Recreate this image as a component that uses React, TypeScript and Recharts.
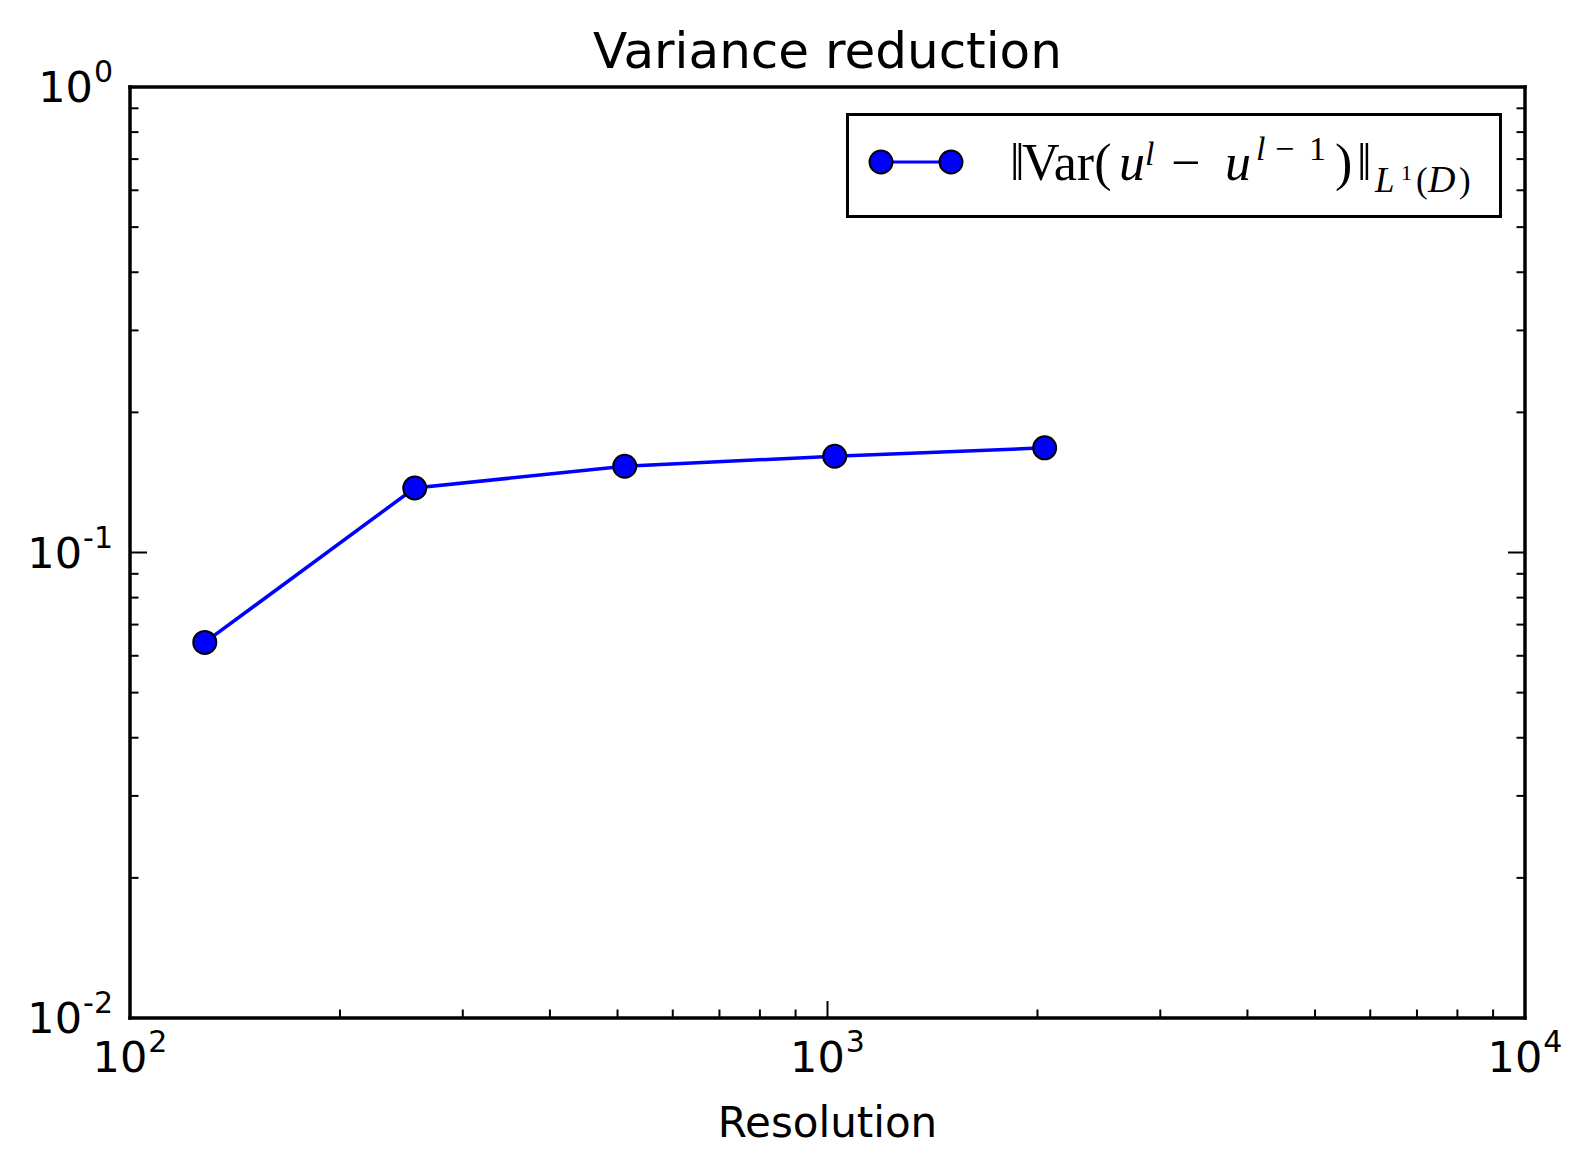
import { Legend, Line, LineChart, XAxis, YAxis } from "recharts";

const resolution = [128, 256, 512, 1024, 2048];
const varianceNorm = [0.0641, 0.1376, 0.1532, 0.161, 0.1678];

const xMajorTicks = [100, 1000, 10000];
const xMinorTicks = [200, 300, 400, 500, 600, 700, 800, 900, 2000, 3000, 4000, 5000, 6000, 7000, 8000, 9000];
const xTickExponents = ["2", "3", "4"];

const yMajorTicks = [0.01, 0.1, 1];
const yMinorTicks = [0.02, 0.03, 0.04, 0.05, 0.06, 0.07, 0.08, 0.09, 0.2, 0.3, 0.4, 0.5, 0.6, 0.7, 0.8, 0.9];
const yTickExponents = ["-2", "-1", "0"];

const chartTitle = "Variance reduction";
const xAxisTitle = "Resolution";
const seriesName = "‖Var(u^l − u^{l−1})‖_{L^1(D)}";

const data = resolution.map((r, i) => ({ resolution: r, value: varianceNorm[i] }));
const xTicks = [...xMajorTicks, ...xMinorTicks].sort((a, b) => a - b);
const yTicks = [...yMajorTicks, ...yMinorTicks].sort((a, b) => a - b);

const SANS = "'DejaVu Sans', sans-serif";
const SERIF = "'Liberation Serif', 'DejaVu Serif', serif";
const MAJOR_LEN = 17;
const MINOR_LEN = 8.5;
const TICK_FONT = 43;
const SUP_FONT = 30;
const BLUE = "#0000ff";

const frame = { stroke: "#000", strokeWidth: 3.5, strokeLinecap: "square" as const };

function XTick({ x, y, payload, side }: any) {
  const idx = xMajorTicks.indexOf(payload.value);
  const len = idx >= 0 ? MAJOR_LEN : MINOR_LEN;
  const dir = side === "bottom" ? -1 : 1;
  return (
    <g>
      <line x1={x} x2={x} y1={y} y2={y + dir * len} stroke="#000" strokeWidth={2} />
      {side === "bottom" && idx >= 0 ? (
        <text x={x} y={y + 54} textAnchor="middle" fontFamily={SANS} fontSize={TICK_FONT} fill="#000">
          10
          <tspan dx={1} dy={-20} fontSize={SUP_FONT}>
            {xTickExponents[idx]}
          </tspan>
        </text>
      ) : null}
    </g>
  );
}

function YTick({ x, y, payload, side }: any) {
  const idx = yMajorTicks.indexOf(payload.value);
  const len = idx >= 0 ? MAJOR_LEN : MINOR_LEN;
  const dir = side === "left" ? 1 : -1;
  return (
    <g>
      <line x1={x} x2={x + dir * len} y1={y} y2={y} stroke="#000" strokeWidth={2} />
      {side === "left" && idx >= 0 ? (
        <text x={x - 17} y={y + 15} textAnchor="end" fontFamily={SANS} fontSize={TICK_FONT} fill="#000">
          10
          <tspan dx={1} dy={-20} fontSize={SUP_FONT}>
            {yTickExponents[idx]}
          </tspan>
        </text>
      ) : null}
    </g>
  );
}

function LegendBox() {
  // pieces of the math label placed at the positions
  return (
    <svg width={656} height={105} style={{ display: "block" }}>
      <rect x={1.5} y={1.5} width={653} height={102} fill="#fff" stroke="#000" strokeWidth={3} />
      <line x1={35} x2={105} y1={49} y2={49} stroke={BLUE} strokeWidth={3} />
      <circle cx={35} cy={49} r={11.5} fill={BLUE} stroke="#000" strokeWidth={2} />
      <circle cx={105} cy={49} r={11.5} fill={BLUE} stroke="#000" strokeWidth={2} />
      <text y={67} fontFamily={SERIF} fontSize={52} fill="#000">
        <tspan x={164}>‖</tspan>
        <tspan x={176}>Var(</tspan>
        <tspan x={273} fontStyle="italic">u</tspan>
        <tspan x={299} fontStyle="italic" fontSize={34} y={52}>l</tspan>
        <tspan x={325} y={67}>−</tspan>
        <tspan x={379} fontStyle="italic">u</tspan>
        <tspan x={410} fontStyle="italic" fontSize={34} y={47}>l</tspan>
        <tspan x={429} fontSize={34}>−</tspan>
        <tspan x={463} fontSize={34}>1</tspan>
        <tspan x={489} y={67}>)</tspan>
        <tspan x={511}>‖</tspan>
        <tspan x={529} fontStyle="italic" fontSize={35} y={79}>L</tspan>
        <tspan x={555} fontSize={22} y={67}>1</tspan>
        <tspan x={570} fontSize={35} y={79}>(</tspan>
        <tspan x={582} fontSize={38} fontStyle="italic">D</tspan>
        <tspan x={613} fontSize={35}>)</tspan>
      </text>
    </svg>
  );
}

export default function App() {
  return (
    <div style={{ position: "absolute", left: 0, top: 0, width: 1592, height: 1174, background: "#fff" }}>
      <LineChart width={1592} height={1174} data={data} margin={{ top: 86, right: 66, bottom: 155, left: 129 }}>
        <XAxis
          xAxisId="bottom"
          dataKey="resolution"
          type="number"
          scale="log"
          domain={[100, 10000]}
          allowDataOverflow
          ticks={xTicks}
          interval={0}
          height={1}
          tickSize={0}
          tickMargin={0}
          tickLine={false}
          axisLine={frame}
          tick={(p: any) => <XTick {...p} side="bottom" />}
          label={(p: any) => {
            const vb = p.viewBox;
            return (
              <text x={vb.x + vb.width / 2} y={vb.y + 119} textAnchor="middle" fontFamily={SANS} fontSize={42} fill="#000">
                {xAxisTitle}
              </text>
            );
          }}
        />
        <XAxis
          xAxisId="top"
          orientation="top"
          type="number"
          scale="log"
          domain={[100, 10000]}
          allowDataOverflow
          ticks={xTicks}
          interval={0}
          height={1}
          tickSize={0}
          tickMargin={0}
          tickLine={false}
          axisLine={frame}
          tick={(p: any) => <XTick {...p} side="top" />}
          label={(p: any) => {
            const vb = p.viewBox;
            return (
              <text x={vb.x + vb.width / 2} y={vb.y + vb.height - 19} textAnchor="middle" fontFamily={SANS} fontSize={50} fill="#000">
                {chartTitle}
              </text>
            );
          }}
        />
        <YAxis
          yAxisId="left"
          type="number"
          scale="log"
          domain={[0.01, 1]}
          allowDataOverflow
          ticks={yTicks}
          interval={0}
          width={1}
          tickSize={0}
          tickMargin={0}
          tickLine={false}
          axisLine={frame}
          tick={(p: any) => <YTick {...p} side="left" />}
        />
        <YAxis
          yAxisId="right"
          orientation="right"
          type="number"
          scale="log"
          domain={[0.01, 1]}
          allowDataOverflow
          ticks={yTicks}
          interval={0}
          width={1}
          tickSize={0}
          tickMargin={0}
          tickLine={false}
          axisLine={frame}
          tick={(p: any) => <YTick {...p} side="right" />}
        />
        <Legend
          layout="vertical"
          align="center"
          verticalAlign="middle"
          wrapperStyle={{ position: "absolute", left: 846, top: 113, width: 656, height: 105 }}
          content={() => <LegendBox />}
        />
        <Line
          xAxisId="bottom"
          yAxisId="left"
          dataKey="value"
          name={seriesName}
          stroke={BLUE}
          strokeWidth={3.5}
          dot={{ r: 11.5, fill: BLUE, stroke: "#000", strokeWidth: 2 }}
          activeDot={false}
          isAnimationActive={false}
        />
      </LineChart>
    </div>
  );
}
